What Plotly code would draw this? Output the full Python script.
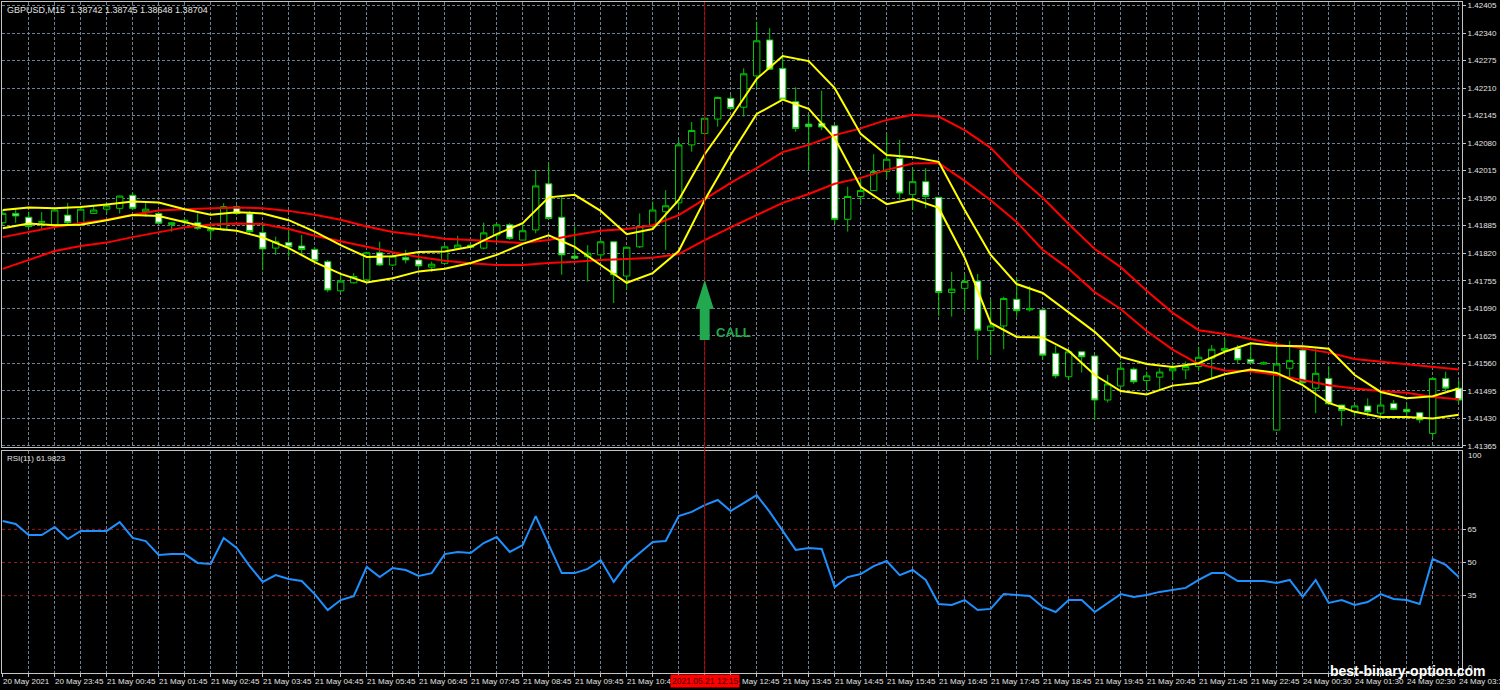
import plotly.graph_objects as go
from plotly.subplots import make_subplots

# ---------------- data ----------------
symbol_header = "GBPUSD,M15  1.38742 1.38745 1.38648 1.38704"
rsi_header = "RSI(11) 61.9823"

bar_index = list(range(113))

open_ = [1.41892, 1.41914, 1.41905, 1.41893, 1.41887, 1.41910, 1.41891, 1.41914, 1.41924, 1.41926,
         1.41957, 1.41918, 1.41914, 1.41888, 1.41894, 1.41892, 1.41873, 1.41875, 1.41930, 1.41913,
         1.41869, 1.41832, 1.41845, 1.41837, 1.41829, 1.41800, 1.41731, 1.41750, 1.41757, 1.41821,
         1.41792, 1.41810, 1.41804, 1.41787, 1.41796, 1.41832, 1.41839, 1.41832, 1.41863, 1.41887,
         1.41851, 1.41875, 1.41984, 1.41905, 1.41813, 1.41812, 1.41816, 1.41847, 1.41766, 1.41835,
         1.41883, 1.41918, 1.41939, 1.42076, 1.42103, 1.42137, 1.42186, 1.42165, 1.42239, 1.42324,
         1.42257, 1.42178, 1.42125, 1.42127, 1.42121, 1.41900, 1.41954, 1.41968, 1.42013, 1.42044,
         1.41959, 1.41989, 1.41952, 1.41727, 1.41737, 1.41754, 1.41637, 1.41648, 1.41711, 1.41686,
         1.41686, 1.41583, 1.41528, 1.41587, 1.41577, 1.41473, 1.41506, 1.41546, 1.41519, 1.41527,
         1.41542, 1.41544, 1.41552, 1.41572, 1.41590, 1.41595, 1.41569, 1.41558, 1.41402, 1.41548,
         1.41591, 1.41501, 1.41524, 1.41461, 1.41445, 1.41459, 1.41442, 1.41465, 1.41451, 1.41443,
         1.41394, 1.41524, 1.41501]

high = [1.41922, 1.41927, 1.41918, 1.41917, 1.41924, 1.41939, 1.41927, 1.41934, 1.41938, 1.41956,
        1.41963, 1.41942, 1.41916, 1.41894, 1.41900, 1.41914, 1.41891, 1.41938, 1.41934, 1.41920,
        1.41891, 1.41859, 1.41875, 1.41863, 1.41834, 1.41804, 1.41772, 1.41773, 1.41823, 1.41847,
        1.41816, 1.41828, 1.41816, 1.41800, 1.41839, 1.41861, 1.41841, 1.41892, 1.41891, 1.41891,
        1.41891, 1.42017, 1.42033, 1.41954, 1.41883, 1.41839, 1.41851, 1.41848, 1.41835, 1.41914,
        1.41942, 1.41969, 1.42088, 1.42130, 1.42143, 1.42190, 1.42194, 1.42257, 1.42367, 1.42352,
        1.42289, 1.42212, 1.42147, 1.42204, 1.42122, 1.41977, 1.41997, 1.42054, 1.42103, 1.42088,
        1.42021, 1.42021, 1.41953, 1.41776, 1.41771, 1.41771, 1.41711, 1.41717, 1.41761, 1.41742,
        1.41687, 1.41601, 1.41591, 1.41588, 1.41579, 1.41532, 1.41564, 1.41550, 1.41540, 1.41548,
        1.41560, 1.41564, 1.41599, 1.41603, 1.41619, 1.41603, 1.41608, 1.41564, 1.41611, 1.41613,
        1.41593, 1.41593, 1.41553, 1.41462, 1.41461, 1.41477, 1.41493, 1.41473, 1.41465, 1.41445,
        1.41527, 1.41540, 1.41520]

low = [1.41887, 1.41892, 1.41879, 1.41875, 1.41884, 1.41887, 1.41887, 1.41913, 1.41914, 1.41914,
       1.41922, 1.41906, 1.41889, 1.41871, 1.41887, 1.41875, 1.41855, 1.41873, 1.41910, 1.41867,
       1.41780, 1.41816, 1.41812, 1.41813, 1.41800, 1.41728, 1.41728, 1.41748, 1.41753, 1.41790,
       1.41790, 1.41796, 1.41784, 1.41776, 1.41794, 1.41829, 1.41832, 1.41829, 1.41847, 1.41851,
       1.41850, 1.41867, 1.41901, 1.41769, 1.41807, 1.41753, 1.41804, 1.41702, 1.41733, 1.41832,
       1.41882, 1.41828, 1.41922, 1.42060, 1.42099, 1.42119, 1.42161, 1.42143, 1.42212, 1.42254,
       1.42182, 1.42107, 1.42017, 1.42111, 1.41889, 1.41871, 1.41938, 1.41967, 1.41997, 1.41946,
       1.41922, 1.41926, 1.41672, 1.41670, 1.41682, 1.41568, 1.41579, 1.41593, 1.41670, 1.41682,
       1.41568, 1.41524, 1.41520, 1.41538, 1.41426, 1.41467, 1.41504, 1.41511, 1.41497, 1.41498,
       1.41520, 1.41522, 1.41542, 1.41524, 1.41587, 1.41560, 1.41560, 1.41556, 1.41401, 1.41524,
       1.41508, 1.41442, 1.41461, 1.41412, 1.41434, 1.41434, 1.41434, 1.41449, 1.41430, 1.41418,
       1.41382, 1.41493, 1.41465]

close = [1.41914, 1.41908, 1.41883, 1.41895, 1.41922, 1.41892, 1.41924, 1.41922, 1.41932, 1.41955,
         1.41926, 1.41924, 1.41891, 1.41892, 1.41898, 1.41879, 1.41876, 1.41930, 1.41914, 1.41871,
         1.41830, 1.41847, 1.41835, 1.41829, 1.41802, 1.41733, 1.41754, 1.41765, 1.41821, 1.41792,
         1.41813, 1.41804, 1.41790, 1.41794, 1.41835, 1.41839, 1.41834, 1.41868, 1.41887, 1.41855,
         1.41873, 1.41979, 1.41902, 1.41816, 1.41808, 1.41820, 1.41847, 1.41769, 1.41834, 1.41883,
         1.41922, 1.41932, 1.42076, 1.42110, 1.42139, 1.42188, 1.42162, 1.42244, 1.42322, 1.42255,
         1.42184, 1.42115, 1.42119, 1.42118, 1.41900, 1.41954, 1.41968, 1.42013, 1.42042, 1.41962,
         1.41989, 1.41954, 1.41727, 1.41735, 1.41753, 1.41638, 1.41648, 1.41713, 1.41684, 1.41689,
         1.41579, 1.41530, 1.41587, 1.41575, 1.41473, 1.41511, 1.41548, 1.41516, 1.41530, 1.41539,
         1.41548, 1.41552, 1.41574, 1.41593, 1.41595, 1.41568, 1.41561, 1.41561, 1.41558, 1.41566,
         1.41514, 1.41536, 1.41464, 1.41448, 1.41459, 1.41445, 1.41461, 1.41451, 1.41445, 1.41426,
         1.41524, 1.41501, 1.41473]

ma_index = list(range(0, 113, 2))

ma_fast_high = [1.41922, 1.41928, 1.41926, 1.41929, 1.41935, 1.41942, 1.41940, 1.41924, 1.41911, 1.41917,
                1.41914, 1.41898, 1.41871, 1.41839, 1.41811, 1.41813, 1.41823, 1.41824, 1.41835, 1.41865,
                1.41891, 1.41952, 1.41958, 1.41920, 1.41865, 1.41877, 1.41946, 1.42054, 1.42140, 1.42232,
                1.42286, 1.42274, 1.42210, 1.42102, 1.42052, 1.42047, 1.42036, 1.41922, 1.41816, 1.41747,
                1.41726, 1.41681, 1.41634, 1.41575, 1.41558, 1.41551, 1.41560, 1.41587, 1.41607, 1.41601,
                1.41600, 1.41594, 1.41532, 1.41492, 1.41477, 1.41482, 1.41500]

ma_fast_low = [1.41879, 1.41890, 1.41886, 1.41887, 1.41898, 1.41910, 1.41908, 1.41894, 1.41879, 1.41873,
               1.41857, 1.41832, 1.41799, 1.41771, 1.41751, 1.41761, 1.41777, 1.41783, 1.41797, 1.41816,
               1.41842, 1.41862, 1.41835, 1.41792, 1.41750, 1.41773, 1.41825, 1.41946, 1.42052, 1.42149,
               1.42183, 1.42161, 1.42092, 1.41977, 1.41936, 1.41948, 1.41927, 1.41809, 1.41655, 1.41622,
               1.41621, 1.41589, 1.41532, 1.41494, 1.41486, 1.41507, 1.41514, 1.41534, 1.41545, 1.41537,
               1.41508, 1.41466, 1.41445, 1.41433, 1.41433, 1.41429, 1.41438]

ma_slow_high = [1.41858, 1.41870, 1.41882, 1.41891, 1.41899, 1.41911, 1.41921, 1.41924, 1.41926, 1.41928,
                1.41926, 1.41920, 1.41911, 1.41899, 1.41883, 1.41870, 1.41863, 1.41854, 1.41851, 1.41847,
                1.41844, 1.41851, 1.41863, 1.41873, 1.41877, 1.41886, 1.41910, 1.41948, 1.41986, 1.42021,
                1.42059, 1.42076, 1.42099, 1.42115, 1.42135, 1.42147, 1.42143, 1.42111, 1.42069, 1.42005,
                1.41951, 1.41889, 1.41830, 1.41787, 1.41731, 1.41679, 1.41638, 1.41629, 1.41617, 1.41605,
                1.41595, 1.41585, 1.41570, 1.41564, 1.41558, 1.41552, 1.41545]

ma_slow_low = [1.41783, 1.41804, 1.41825, 1.41837, 1.41845, 1.41858, 1.41870, 1.41881, 1.41888, 1.41890,
               1.41889, 1.41877, 1.41861, 1.41848, 1.41834, 1.41822, 1.41811, 1.41802, 1.41796, 1.41792,
               1.41792, 1.41797, 1.41800, 1.41804, 1.41806, 1.41809, 1.41818, 1.41851, 1.41881, 1.41910,
               1.41939, 1.41960, 1.41984, 1.41998, 1.42017, 1.42032, 1.42033, 1.41991, 1.41945, 1.41894,
               1.41828, 1.41783, 1.41728, 1.41688, 1.41636, 1.41592, 1.41558, 1.41543, 1.41541, 1.41532,
               1.41520, 1.41508, 1.41500, 1.41494, 1.41490, 1.41480, 1.41475]

rsi = [68.8, 67.4, 62.4, 62.4, 66.1, 60.6, 64.3, 64.3, 64.3, 68.3,
       61.1, 59.7, 53.4, 53.8, 53.8, 49.8, 49.3, 61.1, 56.6, 48.4,
       41.2, 44.3, 42.5, 41.6, 35.7, 28.5, 33.0, 34.8, 48.0, 43.4,
       47.5, 46.6, 43.9, 45.2, 53.8, 54.8, 54.3, 58.8, 61.5, 54.8,
       57.9, 71.0, 57.9, 45.2, 45.2, 47.1, 51.1, 41.2, 49.3, 54.3,
       59.3, 59.7, 71.0, 72.9, 76.0, 78.3, 73.3, 76.9, 80.5, 72.9,
       64.3, 55.7, 56.6, 56.1, 38.9, 43.4, 44.8, 48.4, 50.7, 44.3,
       46.6, 42.1, 31.2, 30.8, 33.0, 28.5, 29.0, 35.7, 35.3, 34.8,
       29.9, 27.6, 33.0, 33.0, 27.6, 31.7, 35.7, 34.4, 35.3, 36.7,
       37.6, 38.5, 42.1, 45.2, 45.2, 41.6, 41.6, 41.6, 40.7, 42.1,
       34.4, 42.1, 31.7, 33.0, 30.8, 32.1, 35.7, 33.5, 33.0, 31.2,
       51.6, 48.9, 43.4]

rsi_levels = [65, 50, 35]
rsi_level_labels = ["65", "50", "35"]

price_ticks = [1.41365, 1.41430, 1.41495, 1.41560, 1.41625, 1.41690, 1.41755, 1.41820, 1.41885,
               1.41950, 1.42015, 1.42080, 1.42145, 1.42210, 1.42275, 1.42340, 1.42405]
price_tick_labels = ["%.5f" % p for p in price_ticks]

time_label_index = [0, 4, 8, 12, 16, 20, 24, 28, 32, 36, 40, 44, 48, 56, 60, 64, 68, 72, 76, 80,
                    84, 88, 92, 96, 100, 104, 108, 112]
time_labels = ["20 May 2021", "20 May 23:45", "21 May 00:45", "21 May 01:45", "21 May 02:45",
               "21 May 03:45", "21 May 04:45", "21 May 05:45", "21 May 06:45", "21 May 07:45",
               "21 May 08:45", "21 May 09:45", "21 May 10:45", "21 May 12:45", "21 May 13:45",
               "21 May 14:45", "21 May 15:45", "21 May 16:45", "21 May 17:45", "21 May 18:45",
               "21 May 19:45", "21 May 20:45", "21 May 21:45", "21 May 22:45", "24 May 00:30",
               "24 May 01:30", "24 May 02:30", "24 May 03:30"]

signal_index = 54
signal_time = "2021.05.21 12:15"
signal_text = "CALL"
signal_tip = 1.41757
signal_head = 1.41688
signal_base = 1.41615
watermark = "best-binary-option.com"

# ---------------- styles ----------------
FONT = "Liberation Sans, Arial, sans-serif"
GRID = "#6f8091"
AXIS = "#c4c4c4"
TXT = "#e2e2e2"
CANDLE_LINE = "#00c800"
ARROW = "#22a84e"

fig = make_subplots(rows=2, cols=1, shared_xaxes=True, vertical_spacing=0.0)

fig.add_trace(go.Candlestick(
    x=bar_index, open=open_, high=high, low=low, close=close,
    increasing=dict(line=dict(color=CANDLE_LINE, width=1), fillcolor="#000000"),
    decreasing=dict(line=dict(color=CANDLE_LINE, width=1), fillcolor="#ffffff"),
    whiskerwidth=0, hoverinfo="skip", showlegend=False), row=1, col=1)

for series, color in [(ma_slow_high, "#ff0000"), (ma_slow_low, "#ff0000"),
                      (ma_fast_high, "#ffff00"), (ma_fast_low, "#ffff00")]:
    fig.add_trace(go.Scatter(x=ma_index, y=series, mode="lines",
                             line=dict(color=color, width=2), hoverinfo="skip",
                             showlegend=False), row=1, col=1)

fig.add_trace(go.Scatter(x=bar_index, y=rsi, mode="lines",
                         line=dict(color="#1e90ff", width=2), hoverinfo="skip",
                         showlegend=False), row=2, col=1)

grid_ticks = list(range(0, 113, 2))
xrange_ = [-0.054, 112.254]

fig.update_layout(
    width=1500, height=690,
    margin=dict(l=2, r=38, t=2, b=17),
    paper_bgcolor="#000000", plot_bgcolor="#000000",
    font=dict(family=FONT, size=8, color=TXT),
    showlegend=False,
    xaxis=dict(range=xrange_, tickvals=grid_ticks, showticklabels=False, ticks="",
               showgrid=True, gridcolor=GRID, griddash="3px,2px", gridwidth=1,
               showline=True, linecolor=AXIS, linewidth=1, mirror=True, zeroline=False,
               rangeslider=dict(visible=False)),
    xaxis2=dict(range=xrange_, tickvals=grid_ticks, showticklabels=False,
                ticks="outside", ticklen=3, tickcolor=AXIS,
                showgrid=True, gridcolor=GRID, griddash="3px,2px", gridwidth=1,
                showline=True, linecolor=AXIS, linewidth=1, mirror=True, zeroline=False,
                rangeslider=dict(visible=False)),
    yaxis=dict(domain=[226 / 671, 1], range=[1.413619, 1.424137], side="right",
               tickvals=price_ticks, ticktext=price_tick_labels,
               ticks="outside", ticklen=3, tickcolor=AXIS,
               tickfont=dict(family=FONT, size=8, color=TXT),
               showgrid=True, gridcolor=GRID, griddash="3px,2px", gridwidth=1,
               showline=True, linecolor=AXIS, linewidth=1, mirror=True, zeroline=False),
    yaxis2=dict(domain=[0, 222 / 671], range=[0, 100.45], side="right",
                tickvals=rsi_levels, ticktext=rsi_level_labels,
                ticks="outside", ticklen=3, tickcolor=AXIS,
                tickfont=dict(family=FONT, size=8, color=TXT),
                showgrid=False, showline=True, linecolor=AXIS, linewidth=1,
                mirror=True, zeroline=False),
)

shapes = []
for lvl in rsi_levels:
    shapes.append(dict(type="line", xref="x2 domain", yref="y2", x0=0, x1=1, y0=lvl, y1=lvl,
                       line=dict(color="#9a1c1c", width=1, dash="3px,3px"), layer="below"))
# vertical signal line through both panels
shapes.append(dict(type="line", xref="x", yref="paper", x0=signal_index, x1=signal_index,
                   y0=0, y1=1, line=dict(color="#a00000", width=1), layer="above"))
# arrow
hs, hh = 0.38, 0.70
x = signal_index
path = (f"M {x - hs},{signal_base} L {x - hs},{signal_head} L {x - hh},{signal_head} "
        f"L {x},{signal_tip} L {x + hh},{signal_head} L {x + hs},{signal_head} "
        f"L {x + hs},{signal_base} Z")
shapes.append(dict(type="path", xref="x", yref="y", path=path,
                   fillcolor=ARROW, line=dict(width=0), layer="above"))
fig.update_layout(shapes=shapes)

ann = []
ann.append(dict(text=symbol_header, xref="paper", yref="paper", x=0, y=1, xanchor="left",
                yanchor="top", xshift=3, yshift=-1, showarrow=False,
                font=dict(family=FONT, size=9, color=TXT)))
ann.append(dict(text=rsi_header, xref="paper", yref="y2 domain", x=0, y=1, xanchor="left",
                yanchor="top", xshift=3, yshift=-1, showarrow=False,
                font=dict(family=FONT, size=8, color=TXT)))
ann.append(dict(text="100", xref="paper", yref="y2", x=1, y=98.5, xanchor="left",
                yanchor="middle", xshift=4, showarrow=False,
                font=dict(family=FONT, size=8, color=TXT)))
ann.append(dict(text="0", xref="paper", yref="y2", x=1, y=2.5, xanchor="left",
                yanchor="middle", xshift=4, showarrow=False,
                font=dict(family=FONT, size=8, color=TXT)))
for i, lab in zip(time_label_index, time_labels):
    ann.append(dict(text=lab, xref="x2", yref="paper", x=i, y=0, xanchor="left",
                    yanchor="middle", xshift=-2, yshift=-8, showarrow=False,
                    font=dict(family=FONT, size=8, color=TXT)))
ann.append(dict(text=signal_time, xref="x2", yref="paper", x=signal_index, y=0,
                xanchor="center", yanchor="middle", yshift=-8, showarrow=False,
                bgcolor="#ff0000", borderpad=1,
                font=dict(family=FONT, size=8.5, color="#4a0000")))
ann.append(dict(text="<b>" + signal_text + "</b>", xref="x", yref="y", x=signal_index,
                y=(signal_head + signal_base) / 2 - 0.00020, xanchor="left", yanchor="middle",
                xshift=9, showarrow=False, font=dict(family=FONT, size=13, color=ARROW)))
ann.append(dict(text="<b>" + watermark + "</b>", xref="paper", yref="paper", x=1, y=0,
                xanchor="right", yanchor="middle", xshift=26, yshift=2, showarrow=False,
                font=dict(family=FONT, size=14, color="#ffffff")))
fig.update_layout(annotations=ann)

fig.write_html("out.html", config={"displayModeBar": False},
               post_script="document.body.style.margin='0';document.body.style.padding='0';")
